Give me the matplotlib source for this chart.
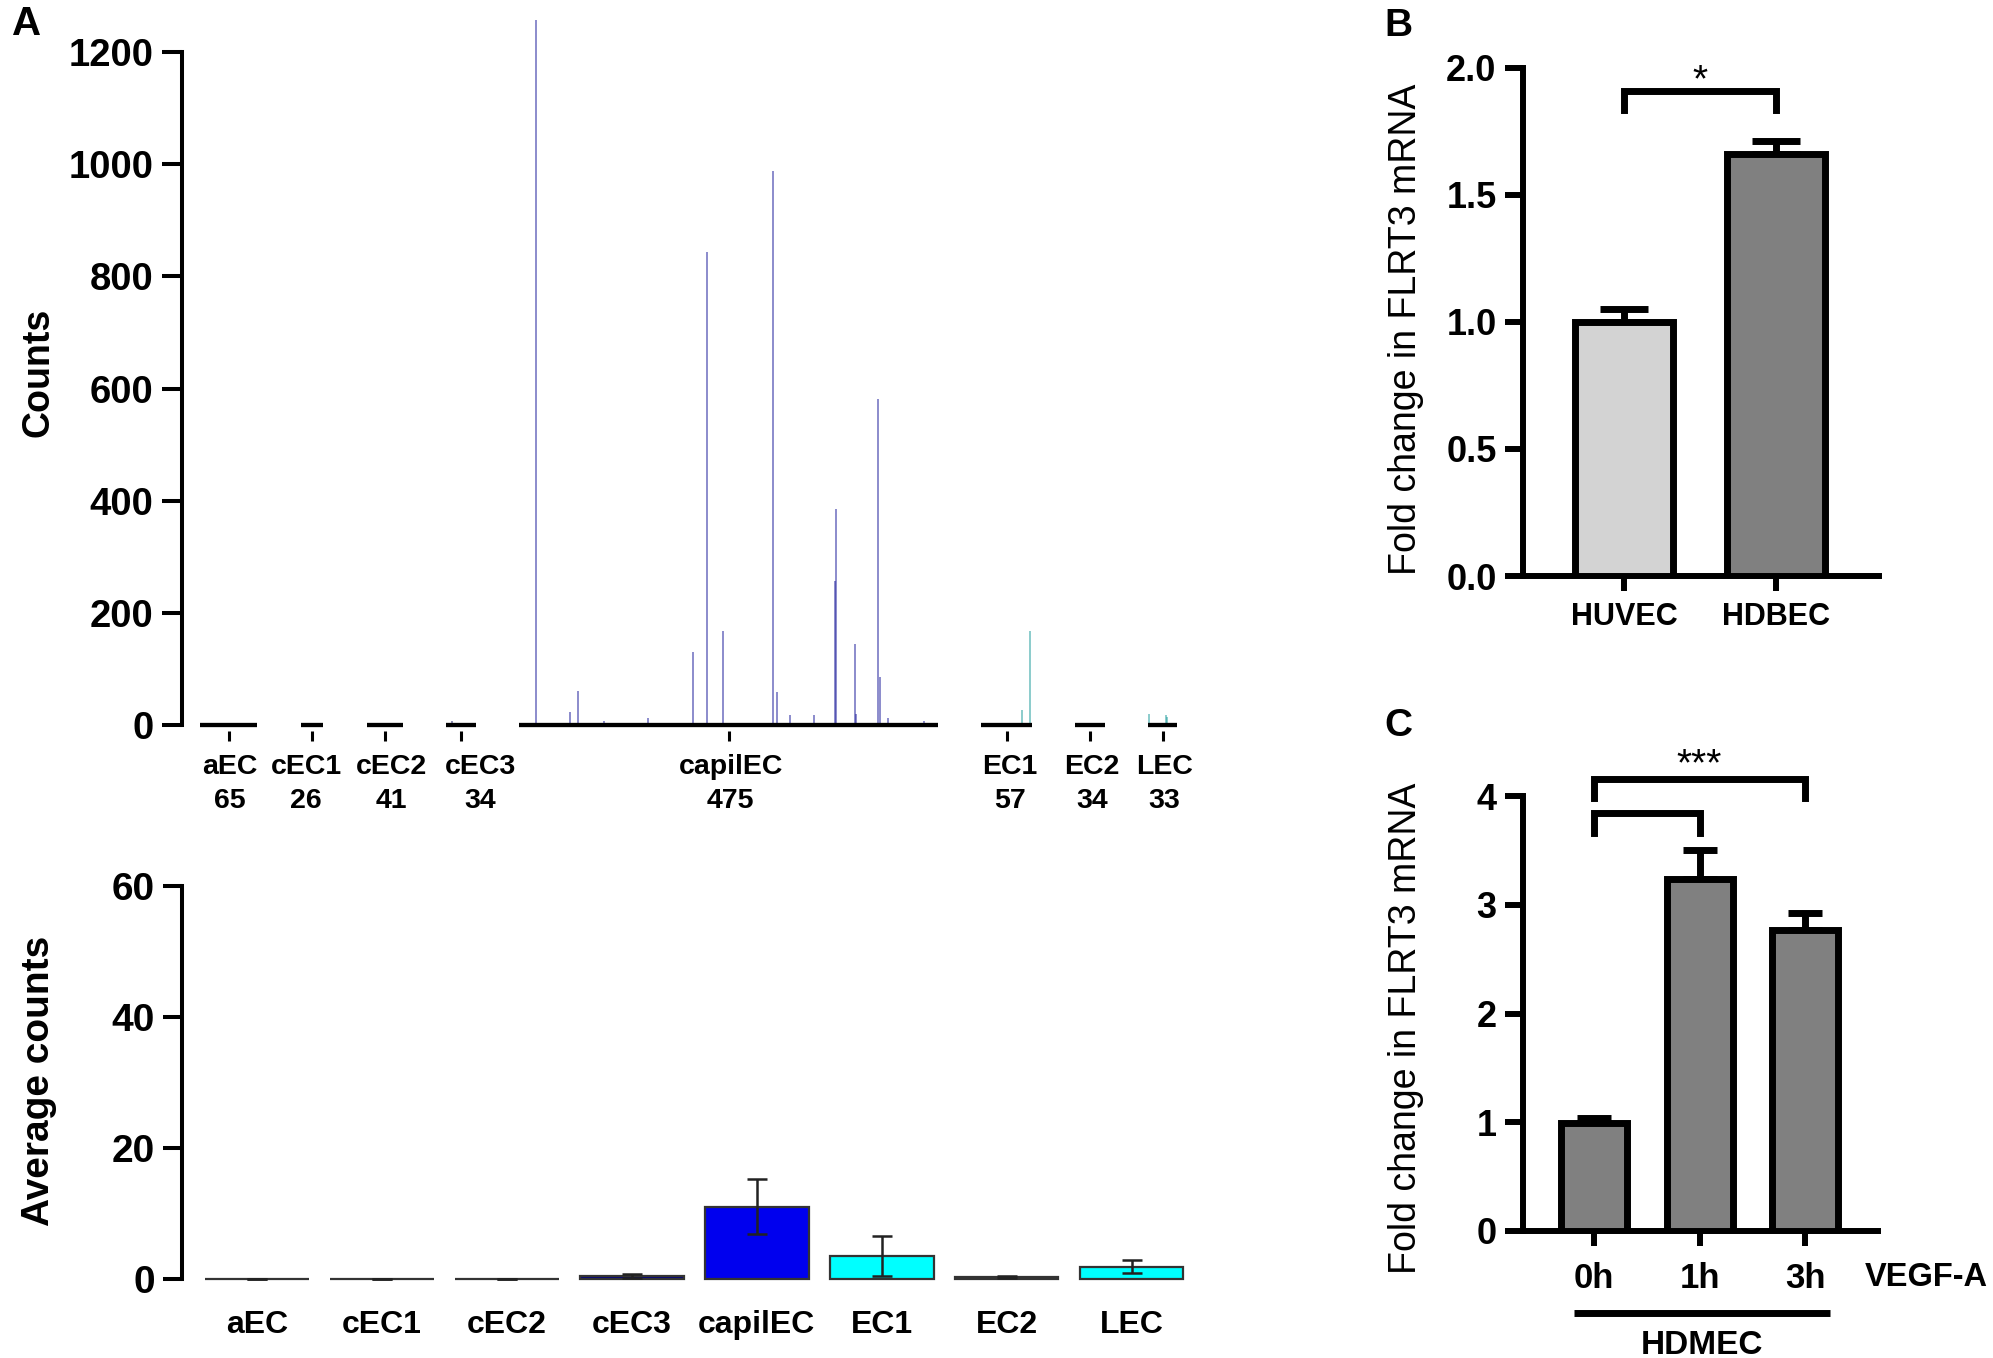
import matplotlib
matplotlib.use("Agg")
import matplotlib.pyplot as plt
import matplotlib.transforms as mtransforms
import numpy as np

W, H = 1993, 1358
DPI = 100
plt.rcParams['font.family'] = ['Liberation Sans', 'DejaVu Sans']
plt.rcParams['font.weight'] = 'bold'
plt.rcParams['axes.linewidth'] = 2.9

# ---------------- data ----------------
groups = ['aEC', 'cEC1', 'cEC2', 'cEC3', 'capilEC', 'EC1', 'EC2', 'LEC']
group_n = [65, 26, 41, 34, 475, 57, 34, 33]

# per-cell counts (only non-zero cells listed: index within group, count)
cec3_idx = [6]
cec3_cnt = [8]
capil_idx = [19, 57, 66, 95, 145, 197, 212, 230, 287, 292, 307, 334,
             357, 359, 380, 381, 406, 408, 418, 458]
capil_cnt = [1258, 24, 60, 8, 12, 130, 844, 168, 987, 58, 17, 18,
             256, 386, 145, 20, 582, 86, 12, 8]
ec1_idx = [45, 54]
ec1_cnt = [26, 168]
ec2_idx = [20]
ec2_cnt = [4]
lec_idx = [1, 20, 21]
lec_cnt = [20, 17, 14]

avg_counts = [0.05, 0.05, 0.05, 0.5, 11.05, 3.55, 0.3, 1.9]
avg_err = [0.02, 0.02, 0.02, 0.3, 4.15, 3.05, 0.2, 1.0]

b_labels = ['HUVEC', 'HDBEC']
b_vals = [1.0, 1.66]
b_err = [0.05, 0.05]

c_labels = ['0h', '1h', '3h']
c_vals = [0.99, 3.24, 2.77]
c_err = [0.05, 0.26, 0.15]

# ---------------- helpers ----------------
fig = plt.figure(figsize=(W / DPI, H / DPI), dpi=DPI)


def add_ax(x0, y0, x1, y1):
    return fig.add_axes([x0 / W, 1 - y1 / H, (x1 - x0) / W, (y1 - y0) / H])


def ftext(x, y, s, **kw):
    fig.text(x / W, 1 - y / H, s, **kw)


# ================= Panel A (top) =================
gap = 49
starts = []
pos = 0
for n in group_n:
    starts.append(pos)
    pos += n + gap
centers = [s + n / 2 for s, n in zip(starts, group_n)]

axA = add_ax(182, 10, 1190, 731)
px_per_cell = 0.882
axA.set_xlim(-18 / px_per_cell, -18 / px_per_cell + 1008 / px_per_cell)
axA.set_ylim(-(731 - 725) / 0.5608, (725 - 10) / 0.5608)

cell_sets = [
    (3, cec3_idx, cec3_cnt, '#1a1a66'),
    (4, capil_idx, capil_cnt, '#1a1a99'),
    (5, ec1_idx, ec1_cnt, '#1a9999'),
    (6, ec2_idx, ec2_cnt, '#1a6666'),
    (7, lec_idx, lec_cnt, '#1a9999'),
]
for gi, idx, cnt, col in cell_sets:
    xs = [starts[gi] + i + 0.5 for i in idx]
    axA.vlines(xs, 0, cnt, colors=col, alpha=0.5, linewidth=1.4, zorder=2)

for s, n in zip(starts, group_n):
    axA.hlines(0, s, s + n, colors='black', linewidth=3.1, zorder=3,
               capstyle='butt')

for sp in ['top', 'right', 'bottom']:
    axA.spines[sp].set_visible(False)
axA.spines['left'].set_bounds(0, 1200)
axA.spines['left'].set_capstyle('projecting')
axA.set_yticks([0, 200, 400, 600, 800, 1000, 1200])
axA.tick_params(axis='y', length=14.4, width=2.9, pad=6, labelsize=27.5)
axA.set_xticks(centers)
axA.set_xticklabels([f'{g}\n{n}' for g, n in zip(groups, group_n)],
                    fontsize=20.5, linespacing=1.42)
axA.tick_params(axis='x', length=7.2, width=2.2, pad=9)
# small horizontal label offsets (pixels) as laid out in the original figure
label_dx = [1, -6, 7, 19, 2, 3, 2, 2]
for lab, dx in zip(axA.get_xticklabels(), label_dx):
    lab.set_transform(lab.get_transform() +
                      mtransforms.ScaledTranslation(dx / DPI, 0,
                                                    fig.dpi_scale_trans))
ftext(38, 372, 'Counts', rotation=90, ha='center', va='center', fontsize=27)
ftext(27, 24, 'A', ha='center', va='center', fontsize=29)

# ================= Panel A (bottom) =================
avg_colors = ['#333333', '#333333', '#333333', '#000080', '#0000ee',
              '#00ffff', '#2f6b6b', '#00ffff']
axAb = add_ax(182, 885.7, 1194, 1279)
axAb.set_xlim(-0.6, 7.5)
axAb.set_ylim(0, 60)
xb = np.arange(len(groups))
axAb.bar(xb, avg_counts, width=0.83, color=avg_colors, edgecolor='#333333',
         linewidth=1.6, zorder=2, clip_on=False)
axAb.errorbar(xb, avg_counts, yerr=avg_err, fmt='none', ecolor='#222222',
              elinewidth=1.8, capsize=7.5, capthick=1.8, zorder=3,
              clip_on=False)
for sp in ['top', 'right', 'bottom']:
    axAb.spines[sp].set_visible(False)
axAb.set_yticks([0, 20, 40, 60])
axAb.tick_params(axis='y', length=13.7, width=2.9, pad=6, labelsize=28)
axAb.set_xticks(xb)
axAb.set_xticklabels(groups, fontsize=23)
axAb.tick_params(axis='x', length=0, pad=22)
ftext(39, 1081, 'Average counts', rotation=90, ha='center', va='center',
      fontsize=28)

# ================= Panel B =================
axB = add_ax(1523, 67.5, 1879, 576)
axB.set_xlim(-0.664, 1.678)
axB.set_ylim(0, 2.0)
xB = np.arange(len(b_labels))
axB.bar(xB, b_vals, width=0.645, color=['#d3d3d3', '#808080'],
        edgecolor='black', linewidth=5, zorder=3)
axB.errorbar(xB, b_vals, yerr=[[0, 0], b_err], fmt='none', ecolor='black',
             elinewidth=5, capsize=17.6, capthick=5, zorder=2)
for sp in ['top', 'right']:
    axB.spines[sp].set_visible(False)
for sp in ['left', 'bottom']:
    axB.spines[sp].set_linewidth(4.3)
axB.set_yticks([0, 0.5, 1.0, 1.5, 2.0])
axB.set_yticklabels(['0.0', '0.5', '1.0', '1.5', '2.0'])
axB.tick_params(axis='y', length=13, width=4.3, pad=6, labelsize=26)
axB.set_xticks(xB)
axB.set_xticklabels(b_labels, fontsize=22)
axB.tick_params(axis='x', length=11, width=4.3, pad=8)
axB.plot([0, 0, 1, 1], [1.833, 1.907, 1.907, 1.833], color='black', lw=5,
         clip_on=False, solid_joinstyle='miter')
axB.text(0.5, 1.945, '*', ha='center', va='center', fontsize=28,
         fontweight='normal')
ftext(1406, 329, 'Fold change in FLRT3 mRNA', rotation=90, ha='center',
      va='center', fontsize=27, fontweight='normal')
ftext(1398, 26, 'B', ha='center', va='center', fontsize=28)

# ================= Panel C =================
axC = add_ax(1523, 796, 1878, 1231)
axC.set_xlim(-0.673, 2.69)
axC.set_ylim(0, 4)
xC = np.arange(len(c_labels))
axC.bar(xC, c_vals, width=0.625, color='#808080', edgecolor='black',
        linewidth=5, zorder=3)
axC.errorbar(xC, c_vals, yerr=[[0, 0, 0], c_err], fmt='none', ecolor='black',
             elinewidth=5, capsize=12.5, capthick=5, zorder=2)
for sp in ['top', 'right']:
    axC.spines[sp].set_visible(False)
for sp in ['left', 'bottom']:
    axC.spines[sp].set_linewidth(4.3)
axC.set_yticks([0, 1, 2, 3, 4])
axC.tick_params(axis='y', length=13, width=4.3, pad=6, labelsize=26)
axC.set_xticks(xC)
axC.set_xticklabels(c_labels, fontsize=25)
axC.tick_params(axis='x', length=11, width=4.3, pad=11)
axC.plot([0, 0, 2, 2], [3.98, 4.157, 4.157, 3.98], color='black', lw=5,
         clip_on=False, solid_joinstyle='miter')
axC.plot([0, 0, 1, 1], [3.66, 3.84, 3.84, 3.66], color='black', lw=5,
         clip_on=False, solid_joinstyle='miter')
axC.text(1, 4.28, '***', ha='center', va='center', fontsize=28,
         fontweight='normal')
axC.plot([-0.19, 2.24], [-0.754, -0.754], color='black', lw=5, clip_on=False,
         solid_capstyle='butt')
ftext(1865, 1277, 'VEGF-A', ha='left', va='center', fontsize=23.5)
ftext(1702, 1345, 'HDMEC', ha='center', va='center', fontsize=24)
ftext(1406, 1028, 'Fold change in FLRT3 mRNA', rotation=90, ha='center',
      va='center', fontsize=27, fontweight='normal')
ftext(1398, 726, 'C', ha='center', va='center', fontsize=28)

fig.savefig('out.png', dpi=DPI)
